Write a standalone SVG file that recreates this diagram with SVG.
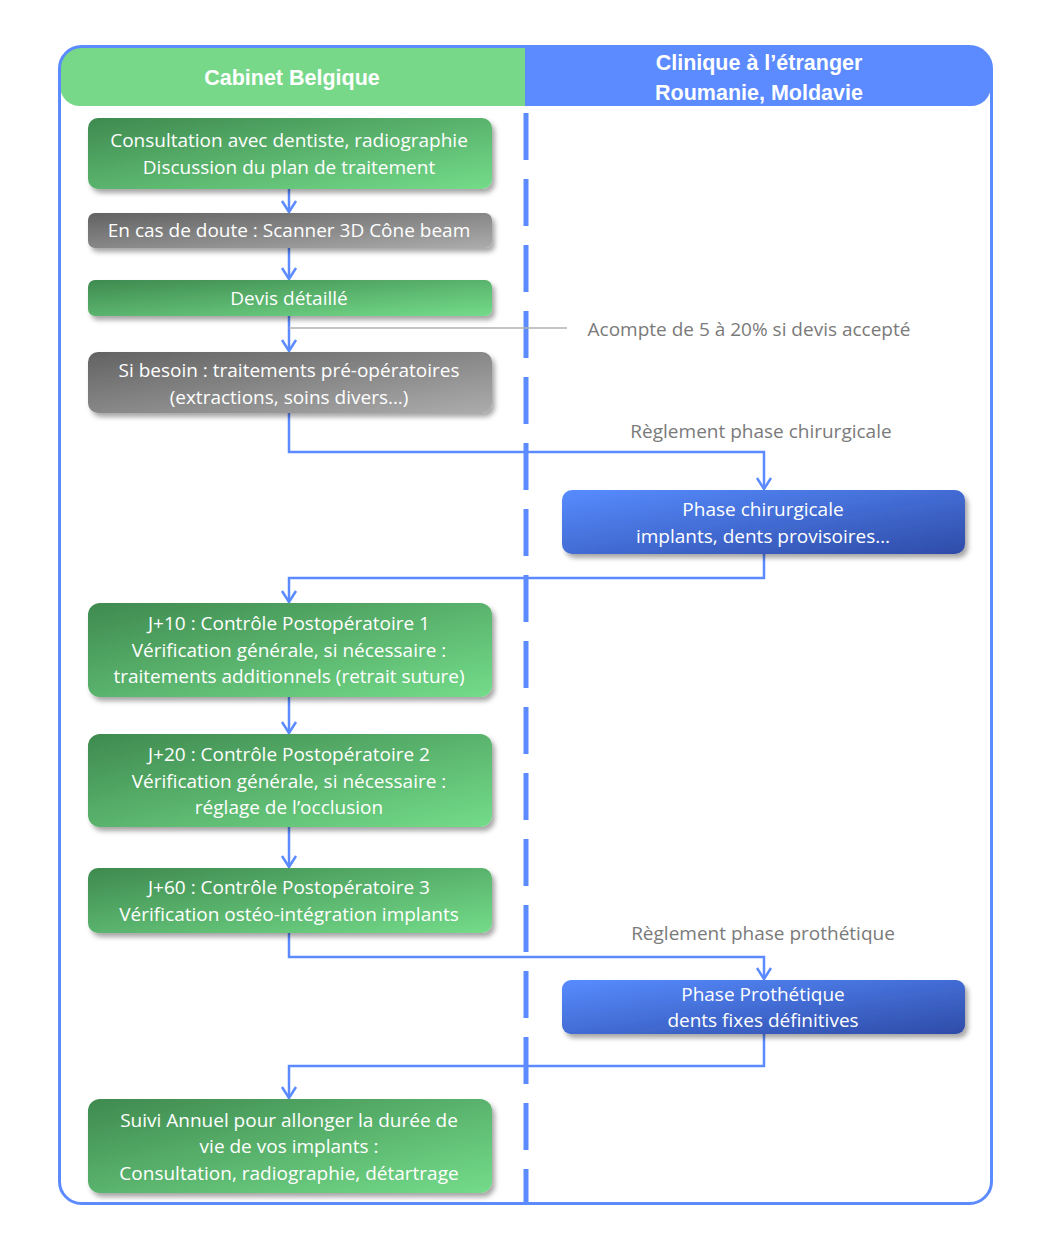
<svg xmlns="http://www.w3.org/2000/svg" width="1051" height="1240" viewBox="0 0 1051 1240">
<defs>
<linearGradient id="gGreen" x1="0" y1="0" x2="1" y2="1">
<stop offset="0" stop-color="#3f8a4f"/><stop offset="1" stop-color="#74dc8a"/>
</linearGradient>
<linearGradient id="gGray" x1="0" y1="0" x2="1" y2="1">
<stop offset="0" stop-color="#626262"/><stop offset="1" stop-color="#acacac"/>
</linearGradient>
<linearGradient id="gBlue" x1="0" y1="0" x2="1" y2="1">
<stop offset="0" stop-color="#578cff"/><stop offset="1" stop-color="#2e4ca8"/>
</linearGradient>
<filter id="sh" x="-10%" y="-20%" width="130%" height="160%">
<feDropShadow dx="3" dy="4" stdDeviation="2.5" flood-color="#000" flood-opacity="0.35"/>
</filter>
<marker id="arr" viewBox="-13 -9 15 18" markerWidth="15" markerHeight="18" refX="0" refY="0" orient="auto" markerUnits="userSpaceOnUse">
<path d="M-11,-7 L0,0 L-11,7" fill="none" stroke="#5b8bff" stroke-width="2.5"/>
</marker>
<style>
.t{font-family:"Open Sans","Liberation Sans",sans-serif;font-size:19px;fill:#fff;text-anchor:middle}
.h{font-family:"Liberation Sans",Arial,sans-serif;font-size:21.5px;font-weight:bold;fill:#fff;text-anchor:middle}
.lbl{font-family:"Open Sans","Liberation Sans",sans-serif;font-size:19px;fill:#7a7a7a;text-anchor:middle}
.c{fill:none;stroke:#5b8bff;stroke-width:2.5}
</style>
</defs>
<rect width="1051" height="1240" fill="#fff"/>
<g id="header-belgique">
<path d="M80,47 H525 V106 H80 A20,20 0 0 1 60,86 V67 A20,20 0 0 1 80,47 Z" fill="#77d88a"/>
<text class="h" x="292" y="85">Cabinet  Belgique</text>
</g>
<g id="header-clinique">
<path d="M525,47 H971 A20,20 0 0 1 991,67 V86 A20,20 0 0 1 971,106 H525 Z" fill="#5b8bff"/>
<text class="h" x="759" y="70">Clinique à l’étranger</text>
<text class="h" x="759" y="100">Roumanie, Moldavie</text>
</g>
<rect id="frame" x="59.5" y="46.5" width="932" height="1157" rx="22" fill="none" stroke="#5b8bff" stroke-width="3"/>
<line id="divider" x1="526" y1="113" x2="526" y2="1203" stroke="#5b8bff" stroke-width="5" stroke-dasharray="47 19"/>
<g id="connectors">
<path class="c" d="M289,189 V212" marker-end="url(#arr)"/>
<path class="c" d="M289,248 V279" marker-end="url(#arr)"/>
<path class="c" d="M289,316 V351" marker-end="url(#arr)"/>
<line x1="289" y1="328" x2="567" y2="328" stroke="#b0b0b0" stroke-width="1.5"/>
<path class="c" d="M289,413 V452 H764 V489" marker-end="url(#arr)"/>
<path class="c" d="M764,554 V578 H289 V602" marker-end="url(#arr)"/>
<path class="c" d="M289,697 V733" marker-end="url(#arr)"/>
<path class="c" d="M289,827 V867" marker-end="url(#arr)"/>
<path class="c" d="M289,933 V957 H764 V979" marker-end="url(#arr)"/>
<path class="c" d="M764,1034 V1066 H289 V1098" marker-end="url(#arr)"/>
<text class="lbl" x="749" y="336">Acompte de 5 à 20% si devis accepté</text>
<text class="lbl" x="761" y="438">Règlement phase chirurgicale</text>
<text class="lbl" x="763" y="940">Règlement phase prothétique</text>
</g>
<g id="n1">
<rect x="88" y="118" width="404" height="71" rx="10" fill="url(#gGreen)" filter="url(#sh)"/>
<text class="t" x="289" y="147">Consultation avec dentiste, radiographie</text>
<text class="t" x="289" y="174">Discussion du plan de traitement</text>
</g>
<g id="n2">
<rect x="88" y="213" width="404" height="35" rx="7" fill="url(#gGray)" filter="url(#sh)"/>
<text class="t" x="289" y="237">En cas de doute : Scanner 3D Cône beam</text>
</g>
<g id="n3">
<rect x="88" y="280" width="404" height="36" rx="7" fill="url(#gGreen)" filter="url(#sh)"/>
<text class="t" x="289" y="305">Devis détaillé</text>
</g>
<g id="n4">
<rect x="88" y="352" width="404" height="61" rx="10" fill="url(#gGray)" filter="url(#sh)"/>
<text class="t" x="289" y="377">Si besoin : traitements pré-opératoires</text>
<text class="t" x="289" y="404">(extractions, soins divers…)</text>
</g>
<g id="n5">
<rect x="562" y="490" width="403" height="64" rx="10" fill="url(#gBlue)" filter="url(#sh)"/>
<text class="t" x="763" y="516">Phase chirurgicale</text>
<text class="t" x="763" y="543">implants, dents provisoires…</text>
</g>
<g id="n6">
<rect x="88" y="603" width="404" height="94" rx="12" fill="url(#gGreen)" filter="url(#sh)"/>
<text class="t" x="289" y="630">J+10 : Contrôle Postopératoire 1</text>
<text class="t" x="289" y="657">Vérification générale, si nécessaire :</text>
<text class="t" x="289" y="683">traitements additionnels (retrait suture)</text>
</g>
<g id="n7">
<rect x="88" y="734" width="404" height="93" rx="12" fill="url(#gGreen)" filter="url(#sh)"/>
<text class="t" x="289" y="761">J+20 : Contrôle Postopératoire 2</text>
<text class="t" x="289" y="788">Vérification générale, si nécessaire :</text>
<text class="t" x="289" y="814">réglage de l’occlusion</text>
</g>
<g id="n8">
<rect x="88" y="868" width="404" height="65" rx="10" fill="url(#gGreen)" filter="url(#sh)"/>
<text class="t" x="289" y="894">J+60 : Contrôle Postopératoire 3</text>
<text class="t" x="289" y="921">Vérification ostéo-intégration implants</text>
</g>
<g id="n9">
<rect x="562" y="980" width="403" height="54" rx="9" fill="url(#gBlue)" filter="url(#sh)"/>
<text class="t" x="763" y="1001">Phase Prothétique</text>
<text class="t" x="763" y="1027">dents fixes définitives</text>
</g>
<g id="n10">
<rect x="88" y="1099" width="404" height="94" rx="12" fill="url(#gGreen)" filter="url(#sh)"/>
<text class="t" x="289" y="1127">Suivi Annuel pour allonger la durée de</text>
<text class="t" x="289" y="1153">vie de vos implants :</text>
<text class="t" x="289" y="1180">Consultation, radiographie, détartrage</text>
</g>
</svg>
